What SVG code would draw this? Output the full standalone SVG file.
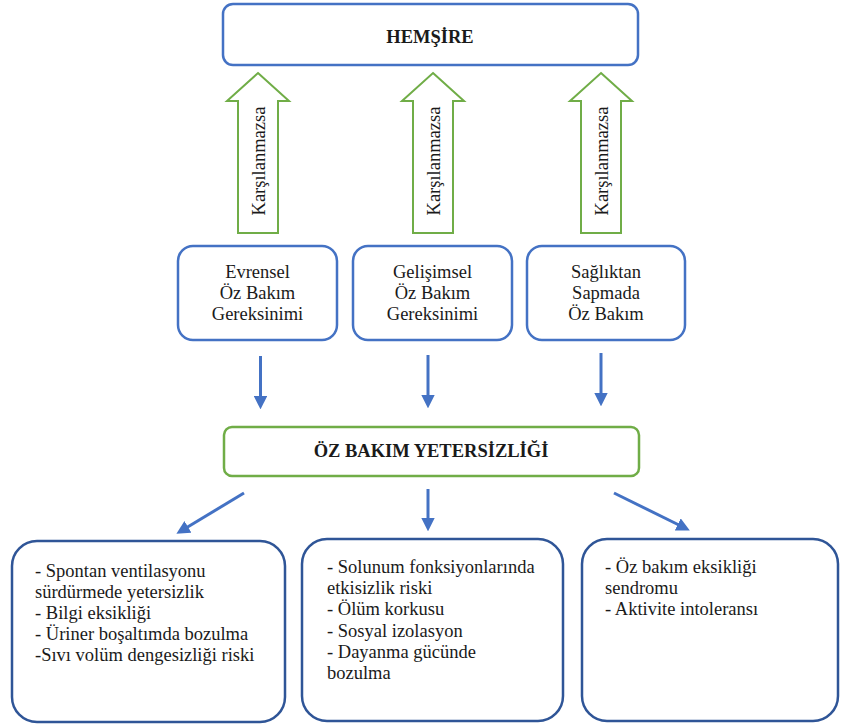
<svg xmlns="http://www.w3.org/2000/svg" width="843" height="726" viewBox="0 0 843 726">
<style>
text{font-family:"Liberation Serif","Times New Roman",serif;fill:#1a1a1a;font-size:18.5px}
.b{font-weight:bold}
.c{text-anchor:middle}
.blue{fill:#fff;stroke:#4472C4;stroke-width:2.5}
.dblue{fill:#fff;stroke:#2F5597;stroke-width:2.5}
.green{fill:#fff;stroke:#70AD47;stroke-width:2.5}
.up{fill:#fff;stroke:#70AD47;stroke-width:2}
.con{stroke:#4472C4;stroke-width:3;fill:none;marker-end:url(#ah)}
</style>
<defs>
<marker id="ah" viewBox="0 0 10 10" refX="6" refY="5" markerWidth="4.5" markerHeight="4.5" orient="auto" markerUnits="strokeWidth">
<path d="M0,0 L10,5 L0,10 z" fill="#4472C4"/>
</marker>
</defs>
<rect width="843" height="726" fill="#fff"/>
<g id="hemsire">
<rect class="blue" x="223" y="4" width="415" height="61" rx="10"/>
<text class="b c" x="430" y="43">HEMŞİRE</text>
</g>
<g id="up1">
<polygon class="up" points="258,73 289,101 278,101 278,233 238,233 238,101 227,101"/>
<text class="c" transform="translate(265,161) rotate(-90)">Karşılanmazsa</text>
</g>
<g id="up2">
<polygon class="up" points="433,73 464,101 453,101 453,233 413,233 413,101 402,101"/>
<text class="c" transform="translate(440,161) rotate(-90)">Karşılanmazsa</text>
</g>
<g id="up3">
<polygon class="up" points="601,73 632,101 621,101 621,233 581,233 581,101 570,101"/>
<text class="c" transform="translate(608,161) rotate(-90)">Karşılanmazsa</text>
</g>
<g id="evrensel">
<rect class="blue" x="178" y="246" width="159" height="94" rx="15"/>
<text class="c" x="257.5" y="278">Evrensel</text>
<text class="c" x="257.5" y="299">Öz Bakım</text>
<text class="c" x="257.5" y="320">Gereksinimi</text>
</g>
<g id="gelisimsel">
<rect class="blue" x="353" y="246" width="159" height="94" rx="15"/>
<text class="c" x="432.5" y="278">Gelişimsel</text>
<text class="c" x="432.5" y="299">Öz Bakım</text>
<text class="c" x="432.5" y="320">Gereksinimi</text>
</g>
<g id="sapma">
<rect class="blue" x="527" y="246" width="158" height="94" rx="15"/>
<text class="c" x="606" y="278">Sağlıktan</text>
<text class="c" x="606" y="299">Sapmada</text>
<text class="c" x="606" y="320">Öz Bakım</text>
</g>
<g id="yetersizlik">
<rect class="green" x="224" y="427" width="415" height="49" rx="8"/>
<text class="b c" x="431" y="457">ÖZ BAKIM YETERSİZLİĞİ</text>
</g>
<g id="connectors">
<line class="con" x1="260.5" y1="356" x2="260.5" y2="404"/>
<line class="con" x1="428" y1="355" x2="428" y2="403"/>
<line class="con" x1="601" y1="353" x2="601" y2="401"/>
<line class="con" x1="244" y1="493" x2="181" y2="531"/>
<line class="con" x1="428" y1="489" x2="428" y2="526"/>
<line class="con" x1="614" y1="493" x2="685" y2="528"/>
</g>
<g id="box1">
<rect class="dblue" x="12" y="541" width="273" height="181" rx="25"/>
<text x="35" y="577">- Spontan ventilasyonu</text>
<text x="35" y="598">sürdürmede yetersizlik</text>
<text x="35" y="619">- Bilgi eksikliği</text>
<text x="35" y="640">- Üriner boşaltımda bozulma</text>
<text x="35" y="661">-Sıvı volüm dengesizliği riski</text>
</g>
<g id="box2">
<rect class="dblue" x="302" y="539" width="261" height="182" rx="25"/>
<text x="327" y="573">- Solunum fonksiyonlarında</text>
<text x="327" y="594">etkisizlik riski</text>
<text x="327" y="615">- Ölüm korkusu</text>
<text x="327" y="637">- Sosyal izolasyon</text>
<text x="327" y="658">- Dayanma gücünde</text>
<text x="327" y="679">bozulma</text>
</g>
<g id="box3">
<rect class="dblue" x="582" y="539" width="256" height="182" rx="25"/>
<text x="605" y="573">- Öz bakım eksikliği</text>
<text x="605" y="594">sendromu</text>
<text x="605" y="615">- Aktivite intoleransı</text>
</g>
</svg>
